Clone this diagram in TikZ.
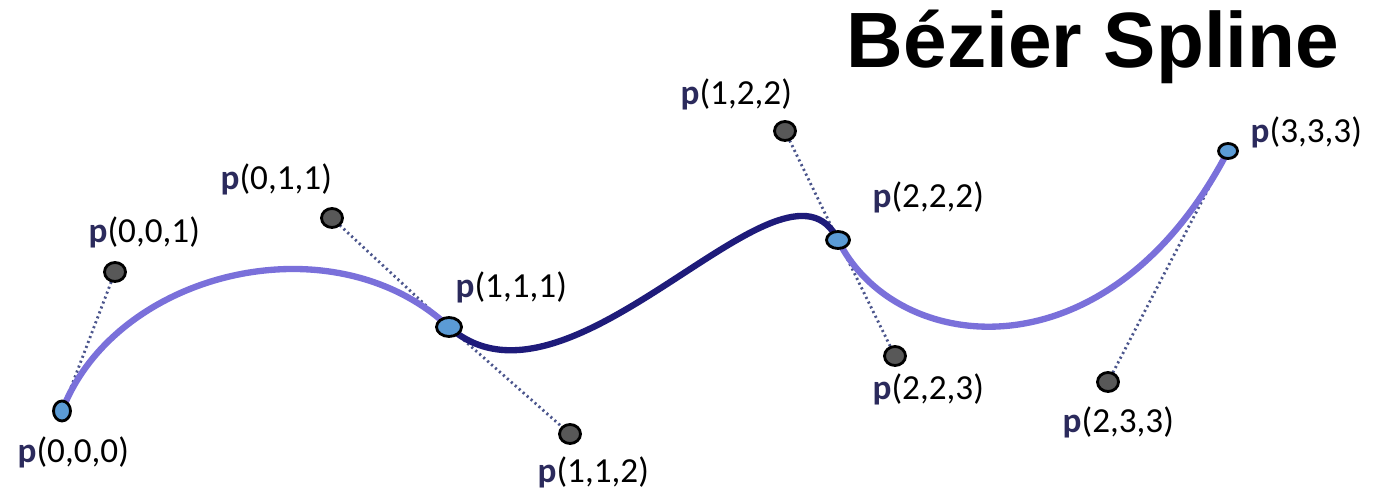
\documentclass[tikz,border=0pt]{standalone}
\usepackage{fontspec}
\setmainfont{Carlito}
\newfontfamily\titlefont{Liberation Sans}
\usepackage{tikz}
\usetikzlibrary{shapes.geometric}
\definecolor{SplineLight}{RGB}{122,112,218}
\definecolor{SplineDark}{RGB}{30,27,122}
\definecolor{KnotBlue}{RGB}{91,155,213}
\definecolor{CtrlGray}{RGB}{88,88,88}
\definecolor{TangentBlue}{RGB}{75,85,140}
\definecolor{LabelNavy}{RGB}{43,42,92}
\newcommand{\plabel}[1]{\textbf{\color{LabelNavy}p}(#1)}

\begin{document}
\begin{tikzpicture}[x=0.01cm, y=-0.01cm, font=\fontsize{10}{12}\selectfont,
	knot/.style={ellipse, draw=black, line width=0.8pt, fill=KnotBlue, inner sep=0pt},
	ctrl/.style={ellipse, draw=black, line width=0.8pt, fill=CtrlGray, inner sep=0pt,
		minimum width=0.21cm, minimum height=0.19cm},
	tangent/.style={TangentBlue, line width=0.8pt, dash pattern=on 0.6pt off 0.9pt},
	seg/.style={line width=1.8pt}]
	\useasboundingbox (0,0) rectangle (1392,501);
	% points of the spline
	\coordinate (p000) at (62,411);
	\coordinate (c001) at (115,272);
	\coordinate (c011) at (332,218);
	\coordinate (p111) at (449,327);
	\coordinate (c112) at (570,434);
	\coordinate (c122) at (785,131);
	\coordinate (p222) at (838,240);
	\coordinate (c223) at (895,356);
	\coordinate (c233) at (1108,382);
	\coordinate (p333) at (1228,151);
	% tangent lines
	\draw[tangent] (c001) -- (p000);
	\draw[tangent] (c011) -- (p111) -- (c112);
	\draw[tangent] (c122) -- (p222) -- (c223);
	\draw[tangent] (c233) -- (p333);
	% segments
	\draw[seg, SplineLight] (p000) .. controls (c001) and (c011) .. (p111);
	\draw[seg, SplineDark] (p111) .. controls (c112) and (c122) .. (p222);
	\draw[seg, SplineLight] (p222) .. controls (c223) and (c233) .. (p333);
	% knots and control points
	\node[knot, minimum width=0.17cm, minimum height=0.2cm] (k000) at (p000) {};
	\node[knot, minimum width=0.25cm, minimum height=0.19cm] (k111) at (p111) {};
	\node[knot, minimum width=0.23cm, minimum height=0.17cm] (k222) at (p222) {};
	\node[knot, minimum width=0.19cm, minimum height=0.15cm] (k333) at (p333) {};
	\foreach \c in {c001, c011, c112, c122, c223, c233}
		{\node[ctrl] (m\c) at (\c) {};}
	% labels
	\node[anchor=base west, inner sep=0pt] (l000) at (17,463) {\plabel{0,0,0}};
	\node[anchor=base west, inner sep=0pt] (l001) at (88,243) {\plabel{0,0,1}};
	\node[anchor=base west, inner sep=0pt] (l011) at (220,190) {\plabel{0,1,1}};
	\node[anchor=base west, inner sep=0pt] (l111) at (455,298) {\plabel{1,1,1}};
	\node[anchor=base west, inner sep=0pt] (l112) at (537,483) {\plabel{1,1,2}};
	\node[anchor=base west, inner sep=0pt] (l122) at (680,105) {\plabel{1,2,2}};
	\node[anchor=base west, inner sep=0pt] (l222) at (872,208) {\plabel{2,2,2}};
	\node[anchor=base west, inner sep=0pt] (l223) at (872,400) {\plabel{2,2,3}};
	\node[anchor=base west, inner sep=0pt] (l233) at (1062,433) {\plabel{2,3,3}};
	\node[anchor=base west, inner sep=0pt] (l333) at (1250,143) {\plabel{3,3,3}};
	% title
	\node[anchor=base, inner sep=0pt, font=\titlefont\bfseries\fontsize{22.3}{26}\selectfont] (title) at (1093,68) {Bézier Spline};
\end{tikzpicture}
\end{document}
